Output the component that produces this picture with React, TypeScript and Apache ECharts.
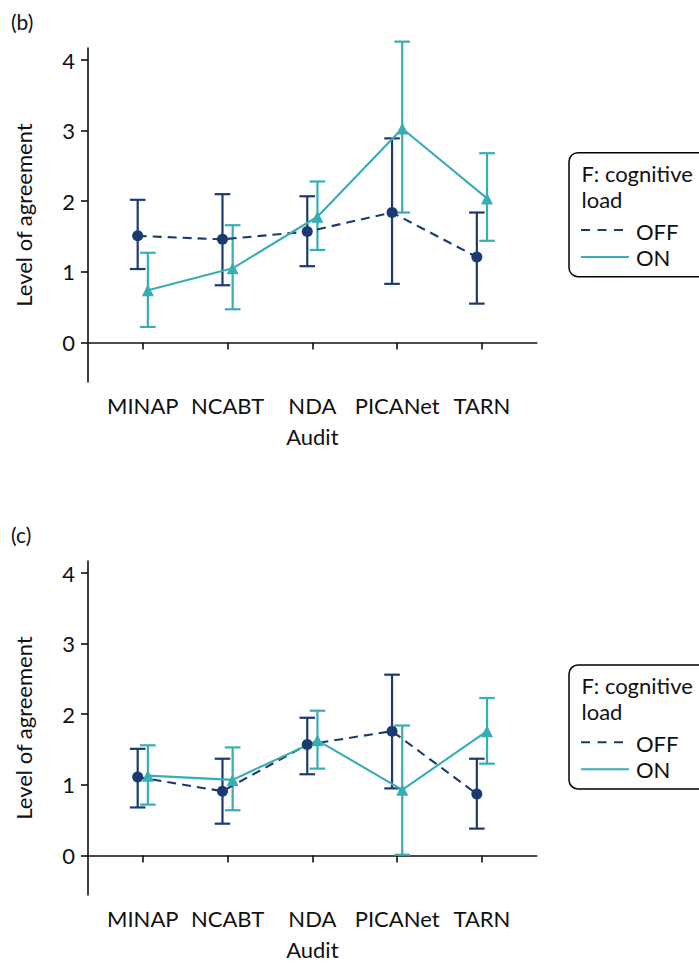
import React, { useEffect, useRef } from "react";
import * as echarts from "echarts";

const categories = ["MINAP", "NCABT", "NDA", "PICANet", "TARN"];
const yTicks = [0, 1, 2, 3, 4];
const seriesNames = ["OFF", "ON"];

// Panel (b)
const bOffMean = [1.51, 1.46, 1.57, 1.84, 1.21];
const bOffLow = [1.04, 0.81, 1.08, 0.83, 0.55];
const bOffHigh = [2.02, 2.1, 2.07, 2.89, 1.84];
const bOnMean = [0.74, 1.05, 1.78, 3.03, 2.04];
const bOnLow = [0.22, 0.47, 1.31, 1.84, 1.44];
const bOnHigh = [1.27, 1.66, 2.28, 4.26, 2.68];

// Panel (c)
const cOffMean = [1.11, 0.91, 1.57, 1.76, 0.87];
const cOffLow = [0.68, 0.45, 1.15, 0.95, 0.38];
const cOffHigh = [1.51, 1.37, 1.95, 2.56, 1.37];
const cOnMean = [1.13, 1.07, 1.63, 0.93, 1.76];
const cOnLow = [0.72, 0.64, 1.23, 0.01, 1.3];
const cOnHigh = [1.56, 1.53, 2.05, 1.84, 2.23];

const NAVY = "#1b3b70";
const TEAL = "#36aeb3";
const FONT = "Lato";
const FS = 22;
const DODGE = 0.06;
const PANEL_SHIFT = 513;

function errSeries(name: string, low: number[], high: number[], dx: number, color: string, idx: number) {
  return {
    type: "custom",
    name,
    xAxisIndex: idx,
    yAxisIndex: idx,
    z: 3,
    data: low.map((l, i) => [i + 1 + dx, l, high[i]]),
    encode: { x: 0, y: [1, 2] },
    renderItem: (params: any, api: any) => {
      const x = api.value(0);
      const pLo = api.coord([x, api.value(1)]);
      const pHi = api.coord([x, api.value(2)]);
      const hw = 7.8;
      const st = { stroke: color, lineWidth: 2.2 };
      return {
        type: "group",
        children: [
          { type: "line", shape: { x1: pLo[0], y1: pLo[1], x2: pHi[0], y2: pHi[1] }, style: st },
          { type: "line", shape: { x1: pLo[0] - hw, y1: pLo[1], x2: pLo[0] + hw, y2: pLo[1] }, style: st },
          { type: "line", shape: { x1: pHi[0] - hw, y1: pHi[1], x2: pHi[0] + hw, y2: pHi[1] }, style: st },
        ],
      };
    },
  };
}

function lineSeries(name: string, mean: number[], dx: number, color: string, dashed: boolean, symbol: string, size: number, idx: number) {
  return {
    type: "line",
    name,
    xAxisIndex: idx,
    yAxisIndex: idx,
    z: 4,
    data: mean.map((v, i) => [i + 1 + dx, v]),
    symbol,
    symbolSize: size,
    showSymbol: true,
    itemStyle: { color },
    lineStyle: { color, width: 2.1, type: dashed ? [9, 6] : "solid" },
  };
}

function legendGraphic(dy: number) {
  const font = `${FS}px ${FONT}`;
  return [
    {
      type: "rect",
      shape: { x: 569, y: 152.7 + dy, width: 200, height: 124, r: 9 },
      style: { fill: "#fff", stroke: "#000", lineWidth: 1.5 },
    },
    { type: "text", x: 581.5, y: 173 + dy, style: { text: "F: cognitive", font, fill: "#111", verticalAlign: "middle" } },
    { type: "text", x: 581.5, y: 199 + dy, style: { text: "load", font, fill: "#111", verticalAlign: "middle" } },
    { type: "line", shape: { x1: 581, y1: 230 + dy, x2: 629, y2: 230 + dy }, style: { stroke: NAVY, lineWidth: 2, lineDash: [9, 7.5] } },
    { type: "text", x: 636, y: 231.5 + dy, style: { text: seriesNames[0], font, fill: "#111", verticalAlign: "middle" } },
    { type: "line", shape: { x1: 581, y1: 257 + dy, x2: 629, y2: 257 + dy }, style: { stroke: TEAL, lineWidth: 2 } },
    { type: "text", x: 636, y: 257 + dy, style: { text: seriesNames[1], font, fill: "#111", verticalAlign: "middle" } },
  ];
}

function xAxis(idx: number) {
  return {
    type: "value",
    gridIndex: idx,
    min: 0.354,
    max: 5.646,
    name: "Audit",
    nameLocation: "middle",
    nameGap: 43,
    nameTextStyle: { fontFamily: FONT, fontSize: FS, color: "#111" },
    splitLine: { show: false },
    axisLine: { show: true, lineStyle: { color: "#111", width: 1.6 } },
    axisTick: { show: true, length: 7, lineStyle: { color: "#111", width: 1.6 }, customValues: [1, 2, 3, 4, 5] },
    axisLabel: {
      customValues: [1, 2, 3, 4, 5],
      formatter: (v: number) => categories[Math.round(v) - 1] ?? "",
      fontFamily: FONT,
      fontSize: FS,
      color: "#111",
      margin: 12,
    },
  };
}

function yAxis(idx: number) {
  return {
    type: "value",
    gridIndex: idx,
    min: -0.56,
    max: 4.17,
    name: "Level of agreement",
    nameLocation: "middle",
    nameGap: 54,
    nameTextStyle: { fontFamily: FONT, fontSize: FS, color: "#111" },
    splitLine: { show: false },
    axisLine: { show: true, lineStyle: { color: "#111", width: 1.6 } },
    axisTick: { show: true, length: 7, lineStyle: { color: "#111", width: 1.6 }, customValues: yTicks },
    axisLabel: { customValues: yTicks, fontFamily: FONT, fontSize: FS, color: "#111", margin: 13 },
  };
}

export default function App() {
  const ref = useRef<HTMLDivElement>(null);
  useEffect(() => {
    if (!ref.current) return;
    const chart = echarts.init(ref.current, undefined, { renderer: "svg" });
    chart.setOption({
      animation: false,
      backgroundColor: "#fff",
      grid: [
        { left: 88, top: 48, width: 448.7, height: 334 },
        { left: 88, top: 48 + PANEL_SHIFT, width: 448.7, height: 334 },
      ],
      xAxis: [xAxis(0), xAxis(1)],
      yAxis: [yAxis(0), yAxis(1)],
      series: [
        errSeries("OFF", bOffLow, bOffHigh, -DODGE, NAVY, 0),
        errSeries("ON", bOnLow, bOnHigh, DODGE, TEAL, 0),
        lineSeries("OFF", bOffMean, -DODGE, NAVY, true, "circle", 11, 0),
        lineSeries("ON", bOnMean, DODGE, TEAL, false, "triangle", 12, 0),
        errSeries("OFF", cOffLow, cOffHigh, -DODGE, NAVY, 1),
        errSeries("ON", cOnLow, cOnHigh, DODGE, TEAL, 1),
        lineSeries("OFF", cOffMean, -DODGE, NAVY, true, "circle", 11, 1),
        lineSeries("ON", cOnMean, DODGE, TEAL, false, "triangle", 12, 1),
      ],
      graphic: [
        { type: "text", x: 11, y: 21, style: { text: "(b)", font: `21px ${FONT}`, fill: "#111", verticalAlign: "middle" } },
        { type: "text", x: 11, y: 21 + PANEL_SHIFT, style: { text: "(c)", font: `21px ${FONT}`, fill: "#111", verticalAlign: "middle" } },
        ...legendGraphic(0),
        ...legendGraphic(PANEL_SHIFT - 0.7),
      ],
    });
    return () => chart.dispose();
  }, []);
  return <div ref={ref} style={{ position: "absolute", left: 0, top: 0, width: 699, height: 963 }} />;
}
